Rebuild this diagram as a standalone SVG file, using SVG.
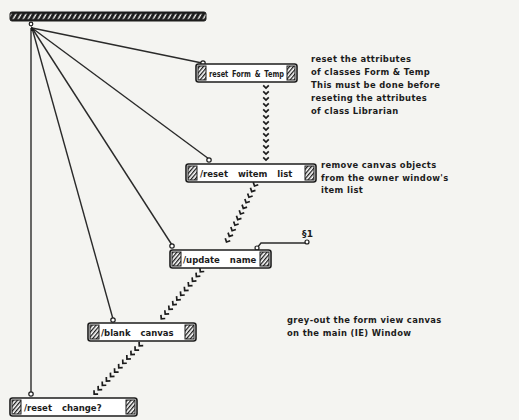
<svg xmlns="http://www.w3.org/2000/svg" width="519" height="420" viewBox="0 0 519 420">
  <style>
    .bg { fill: #f4f4f1; }
    .box { fill: #ffffff; stroke: #1c1c1c; stroke-width: 1.6; }
    .hatch { fill: url(#diag); stroke: #1c1c1c; stroke-width: 1; }
    .lbl { font-family: "DejaVu Sans", "Liberation Sans", sans-serif; font-weight: bold; font-size: 8.5px; fill: #1c1c1c; word-spacing: 7px; }
    .note { font-family: "DejaVu Sans", "Liberation Sans", sans-serif; font-weight: bold; font-size: 8.4px; letter-spacing: 0.35px; fill: #1c1c1c; }
    .wire { stroke: #2a2a2a; stroke-width: 1.4; fill: none; }
    .term { fill: #ffffff; stroke: #1c1c1c; stroke-width: 1.2; }
    .sync { fill: none; stroke: none; marker-start: url(#chev); marker-mid: url(#chev); marker-end: url(#chev); }
  </style>
  <defs>
    <!-- slanted hatching used at the ends of each operation box -->
    <pattern id="diag" width="3" height="3" patternUnits="userSpaceOnUse" patternTransform="rotate(40)">
      <rect width="3" height="3" fill="#ffffff"/>
      <rect width="1.3" height="3" fill="#1c1c1c"/>
    </pattern>
    <!-- dark bar with light slashes for the input bar -->
    <pattern id="barHatch" width="5" height="9" patternUnits="userSpaceOnUse" patternTransform="translate(10 12) skewX(-30)">
      <rect width="5" height="9" fill="#1c1c1c"/>
      <rect x="1.5" y="2" width="1.6" height="5" fill="#f4f4f1"/>
    </pattern>
    <!-- chevron used for synchro links -->
    <marker id="chev" markerUnits="userSpaceOnUse" markerWidth="8" markerHeight="8" viewBox="-4 -4 8 8" refX="0" refY="0" orient="auto" overflow="visible">
      <path d="M-1.7,-2.8 L1.1,0 L-1.7,2.8" fill="none" stroke="#1c1c1c" stroke-width="1.7"/>
    </marker>
  </defs>

  <rect class="bg" x="0" y="0" width="519" height="420"/>

  <!-- input bar -->
  <g id="input-bar">
    <rect x="10" y="12" width="196" height="9" rx="2" fill="url(#barHatch)" stroke="#1c1c1c" stroke-width="1"/>
    <circle cx="31" cy="24" r="1.8" class="term"/>
  </g>

  <!-- connectors -->
  <g id="connectors">
    <path class="wire" d="M32 28 L202 63"/>
    <path class="wire" d="M32 28 L209 159"/>
    <path class="wire" d="M32 28 L172 245"/>
    <path class="wire" d="M32 28 L113 319"/>
    <path class="wire" d="M31 28 L31 393"/>
    <circle class="term" cx="203" cy="63" r="2.2"/>
    <circle class="term" cx="209" cy="160" r="2.2"/>
    <circle class="term" cx="172" cy="246" r="2.2"/>
    <circle class="term" cx="113" cy="320" r="2.2"/>
    <circle class="term" cx="31" cy="394" r="2.2"/>
    <path d="M31 26 L35 31 L31 31 Z" fill="#1c1c1c"/>

    <!-- output root of /update name -->
    <path class="wire" d="M257 248 L261 243 L305 243"/>
    <circle class="term" cx="257" cy="248" r="2"/>
    <circle class="term" cx="307" cy="242" r="2"/>

    <!-- synchro links -->
    <path class="sync" d="M266 87 V93 V99 V105 V111 V117 V123 V129 V135 V141 V147 V153 V159"/>
    <path class="sync" d="M255 185 l-2.8 5.6 l-2.8 5.6 l-2.8 5.6 l-2.8 5.6 l-2.8 5.6 l-2.8 5.6 l-2.8 5.6 l-2.8 5.6 l-2.8 5.6 l-2.8 5.6"/>
    <path class="sync" d="M201 271 l-3.9 4.7 l-3.9 4.7 l-3.9 4.7 l-3.9 4.7 l-3.9 4.7 l-3.9 4.7 l-3.9 4.7 l-3.9 4.7 l-3.9 4.7 l-3.9 4.7"/>
    <path class="sync" d="M140 345 l-4.1 4.4 l-4.1 4.4 l-4.1 4.4 l-4.1 4.4 l-4.1 4.4 l-4.1 4.4 l-4.1 4.4 l-4.1 4.4 l-4.1 4.4 l-4.1 4.4 l-4.1 4.4"/>
  </g>

  <g id="reset-form-temp">
    <rect class="box" x="196" y="64" width="101" height="18" rx="2.5"/>
    <rect class="hatch" x="198" y="66" width="8" height="14"/>
    <rect class="hatch" x="287" y="66" width="8" height="14"/>
    <text class="lbl" x="209" y="77" textLength="75" lengthAdjust="spacingAndGlyphs" style="word-spacing:2px">reset Form &amp; Temp</text>
  </g>

  <g id="reset-witem-list">
    <rect class="box" x="186" y="164" width="130" height="18" rx="2.5"/>
    <rect class="hatch" x="188" y="166" width="9" height="14"/>
    <rect class="hatch" x="305" y="166" width="9" height="14"/>
    <text class="lbl" x="200" y="177">/reset witem list</text>
  </g>

  <g id="update-name">
    <rect class="box" x="170" y="250" width="101" height="18" rx="2.5"/>
    <rect class="hatch" x="172" y="252" width="9" height="14"/>
    <rect class="hatch" x="260" y="252" width="9" height="14"/>
    <text class="lbl" x="183" y="263">/update name</text>
    <text class="note" x="302" y="237" style="font-size:9px">§1</text>
  </g>

  <g id="blank-canvas">
    <rect class="box" x="88" y="323" width="108" height="18" rx="2.5"/>
    <rect class="hatch" x="90" y="325" width="9" height="14"/>
    <rect class="hatch" x="185" y="325" width="9" height="14"/>
    <text class="lbl" x="101" y="336">/blank canvas</text>
  </g>

  <g id="reset-change">
    <rect class="box" x="10" y="398" width="127" height="18" rx="2.5"/>
    <rect class="hatch" x="12" y="400" width="9" height="14"/>
    <rect class="hatch" x="126" y="400" width="9" height="14"/>
    <text class="lbl" x="24" y="411">/reset change?</text>
  </g>

  <!-- comments -->
  <g id="comment-form-temp" class="note">
    <text x="311" y="62">reset the attributes</text>
    <text x="311" y="75">of classes Form &amp; Temp</text>
    <text x="311" y="88">This must be done before</text>
    <text x="311" y="101">reseting the attributes</text>
    <text x="311" y="114">of class Librarian</text>
  </g>
  <g id="comment-witem" class="note">
    <text x="321" y="168">remove canvas objects</text>
    <text x="321" y="181">from the owner window's</text>
    <text x="321" y="193">item list</text>
  </g>
  <g id="comment-blank" class="note">
    <text x="287" y="323">grey-out the form view canvas</text>
    <text x="287" y="336">on the main (IE) Window</text>
  </g>
</svg>
